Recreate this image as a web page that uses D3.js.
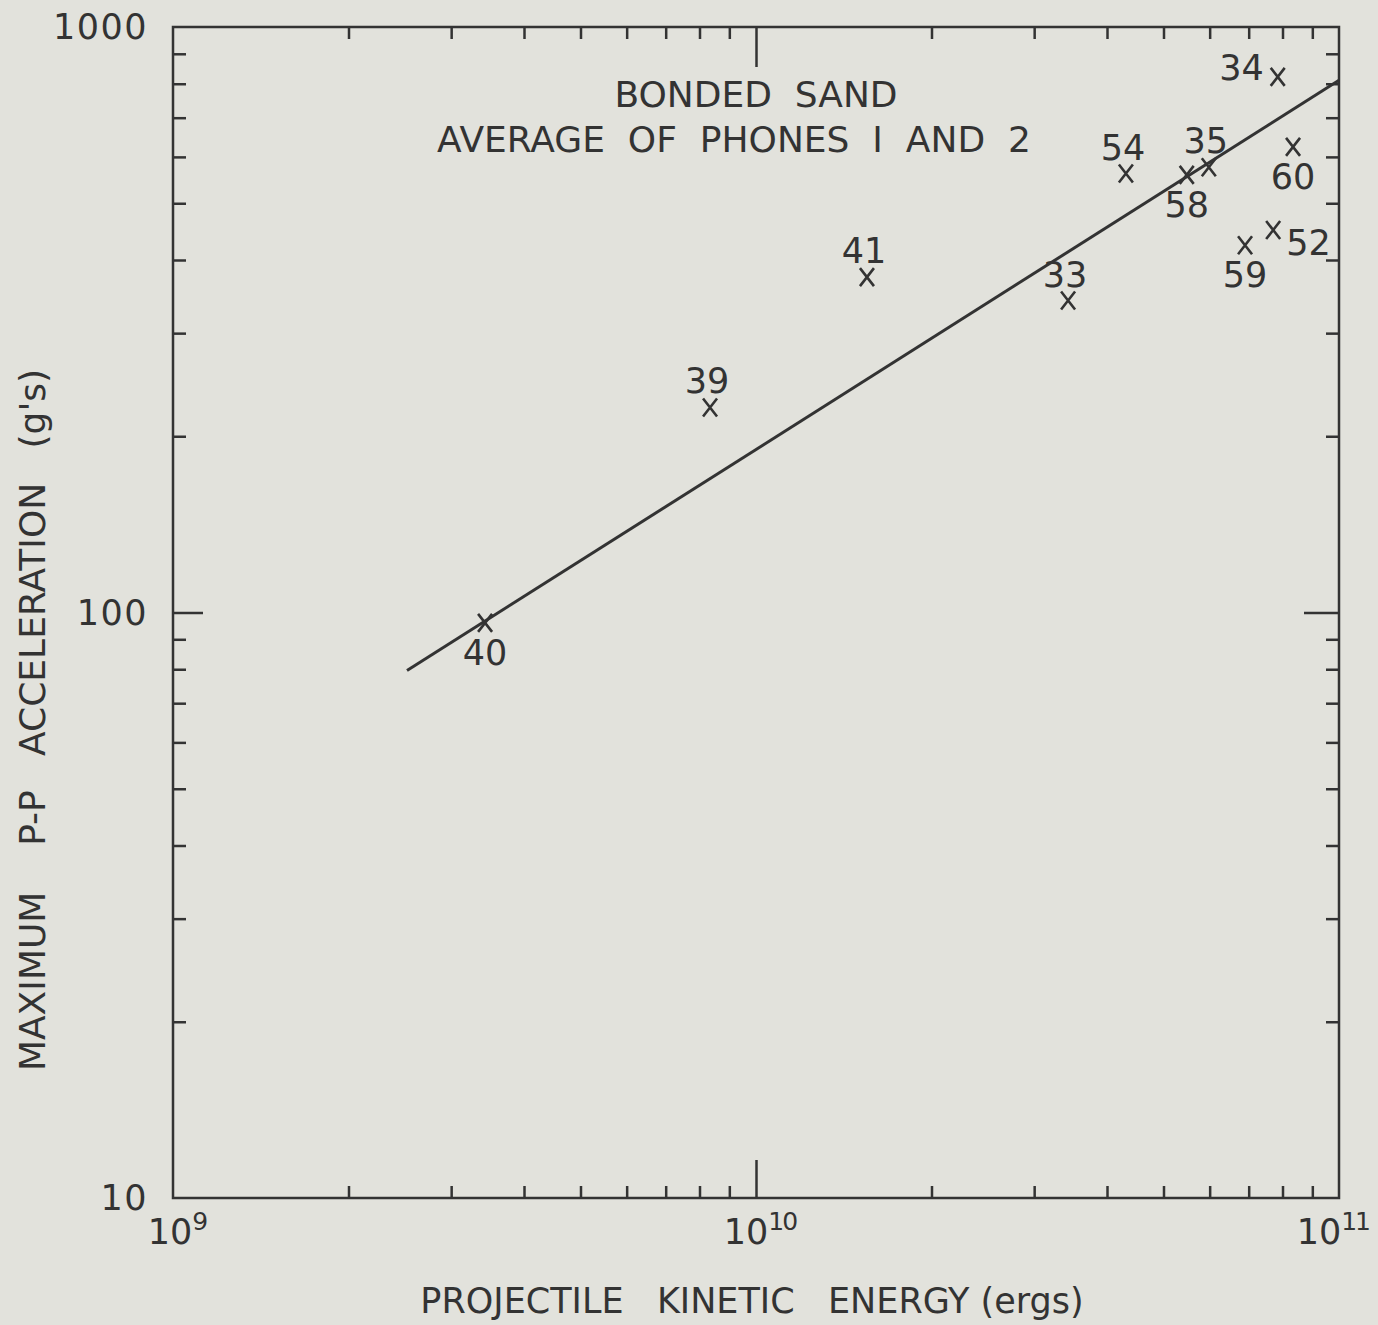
<!DOCTYPE html>
<html>
<head>
<meta charset="utf-8">
<script src="https://cdn.jsdelivr.net/npm/d3@7"></script>
<style>
  body { margin: 0; background: #e2e2dc; }
  svg { display: block; }
  text { fill: #333; font-family: "DejaVu Sans", sans-serif; }
  .axis path, .axis line { stroke: #333; }
</style>
</head>
<body>
<svg width="1378" height="1325"></svg>
<script>
// run numbers, kinetic energy (ergs), max p-p acceleration (g's)
const runs = ["40", "39", "41", "33", "54", "58", "35", "60", "52", "59", "34"];
const energy = [3.43e9, 8.34e9, 1.55e10, 3.43e10, 4.31e10, 5.48e10, 5.98e10, 8.34e10, 7.71e10, 6.9e10, 7.85e10];
const accel = [96, 224, 374, 341, 562, 559, 576, 624, 450, 424, 822];
const labelPlace = ["below", "above", "above", "above", "above", "below", "above", "below", "right", "below", "left"];

// fitted line end points
const fitEnergy = [2.52e9, 1e11];
const fitAccel = [79.6, 811];

const xDecades = [1e9, 1e10, 1e11];
const xDecadeExp = ["9", "10", "11"];
const yDecades = [10, 100, 1000];
const yDecadeLabels = ["10", "100", "1000"];

const titleLines = ["BONDED  SAND", "AVERAGE  OF  PHONES  I  AND  2"];
const xTitle = "PROJECTILE   KINETIC   ENERGY (ergs)";
const yTitle = "MAXIMUM    P-P   ACCELERATION   (g's)";

const svg = d3.select("svg"),
  margin = { top: 27, right: 39, bottom: 127, left: 173 },
  width = +svg.attr("width") - margin.left - margin.right,
  height = +svg.attr("height") - margin.top - margin.bottom;

const x = d3.scaleLog().domain([1e9, 1e11]).range([0, width]),
  y = d3.scaleLog().domain([10, 1000]).range([height, 0]);

const minorOf = (decades) =>
  decades.slice(0, -1).flatMap((d) => d3.range(2, 10).map((k) => k * d));
const xMinor = minorOf(xDecades),
  yMinor = minorOf(yDecades);

const g = svg.append("g").attr("transform", `translate(${margin.left},${margin.top})`);

// inward ticks on all four sides
const tickStyle = (sel) => {
  sel.selectAll(".domain").remove();
  sel.selectAll("line").attr("stroke-width", 2.5);
};
g.append("g").attr("class", "axis").attr("transform", `translate(0,${height})`)
  .call(d3.axisBottom(x).tickValues(xMinor).tickSize(-12).tickFormat("")).call(tickStyle);
g.append("g").attr("class", "axis").attr("transform", `translate(0,${height})`)
  .call(d3.axisBottom(x).tickValues([1e10]).tickSize(-38).tickFormat("")).call(tickStyle);
g.append("g").attr("class", "axis")
  .call(d3.axisTop(x).tickValues(xMinor).tickSize(-12).tickFormat("")).call(tickStyle);
g.append("g").attr("class", "axis")
  .call(d3.axisTop(x).tickValues([1e10]).tickSize(-40).tickFormat("")).call(tickStyle);
g.append("g").attr("class", "axis")
  .call(d3.axisLeft(y).tickValues(yMinor).tickSize(-13).tickFormat("")).call(tickStyle);
g.append("g").attr("class", "axis")
  .call(d3.axisLeft(y).tickValues([100]).tickSize(-30).tickFormat("")).call(tickStyle);
g.append("g").attr("class", "axis").attr("transform", `translate(${width},0)`)
  .call(d3.axisRight(y).tickValues(yMinor).tickSize(-13).tickFormat("")).call(tickStyle);
g.append("g").attr("class", "axis").attr("transform", `translate(${width},0)`)
  .call(d3.axisRight(y).tickValues([100]).tickSize(-35).tickFormat("")).call(tickStyle);

g.append("rect")
  .attr("width", width).attr("height", height)
  .attr("fill", "none").attr("stroke", "#333").attr("stroke-width", 2.5);

// tick labels
const xl = g.selectAll(".xlab").data(xDecades).enter().append("text")
  .attr("class", "xlab")
  .attr("x", (d, i) => (i === xDecades.length - 1 ? x(d) + 30 : x(d) + 4))
  .attr("y", height + 46)
  .attr("text-anchor", (d, i) => (i === xDecades.length - 1 ? "end" : "middle"))
  .attr("font-size", 35);
xl.append("tspan").text("10");
xl.append("tspan").attr("dy", -14).attr("font-size", 25).attr("letter-spacing", -2)
  .text((d, i) => xDecadeExp[i]);

g.selectAll(".ylab").data(yDecades).enter().append("text")
  .attr("class", "ylab")
  .attr("x", -25)
  .attr("y", (d) => y(d) + 12)
  .attr("text-anchor", "end")
  .attr("font-size", 35)
  .attr("letter-spacing", 1.5)
  .text((d, i) => yDecadeLabels[i]);

// fit line
g.append("path")
  .datum(fitEnergy.map((e, i) => [e, fitAccel[i]]))
  .attr("fill", "none").attr("stroke", "#333").attr("stroke-width", 3)
  .attr("d", d3.line().x((d) => x(d[0])).y((d) => y(d[1])));

// points drawn as x marks
const pts = runs.map((r, i) => ({ run: r, e: energy[i], a: accel[i], place: labelPlace[i] }));
const pg = g.selectAll(".pt").data(pts).enter().append("g")
  .attr("transform", (d) => `translate(${x(d.e)},${y(d.a)})`);
pg.append("path")
  .attr("d", "M-7,-9L7,9M7,-9L-7,9")
  .attr("stroke", "#333").attr("stroke-width", 2.6).attr("fill", "none");

const offs = { above: [-3, -14, "middle"], below: [0, 42, "middle"], left: [-14, 3, "end"], right: [13, 25, "start"] };
pg.append("text")
  .attr("x", (d) => offs[d.place][0])
  .attr("y", (d) => offs[d.place][1])
  .attr("text-anchor", (d) => offs[d.place][2])
  .attr("font-size", 35)
  .text((d) => d.run);

// titles
g.selectAll(".title").data(titleLines).enter().append("text")
  .attr("x", (d, i) => x(1e10) - (i === 0 ? 0 : 22))
  .attr("y", (d, i) => 80 + i * 45)
  .attr("text-anchor", "middle")
  .attr("font-size", 36)
  .style("white-space", "pre")
  .text((d) => d);

svg.append("text")
  .attr("x", margin.left + x(1e10) - 4)
  .attr("y", 1313)
  .attr("text-anchor", "middle")
  .attr("font-size", 35)
  .style("white-space", "pre")
  .text(xTitle);

svg.append("text")
  .attr("transform", "translate(45,720) rotate(-90)")
  .attr("text-anchor", "middle")
  .attr("font-size", 36)
  .style("white-space", "pre")
  .text(yTitle);
</script>
</body>
</html>
